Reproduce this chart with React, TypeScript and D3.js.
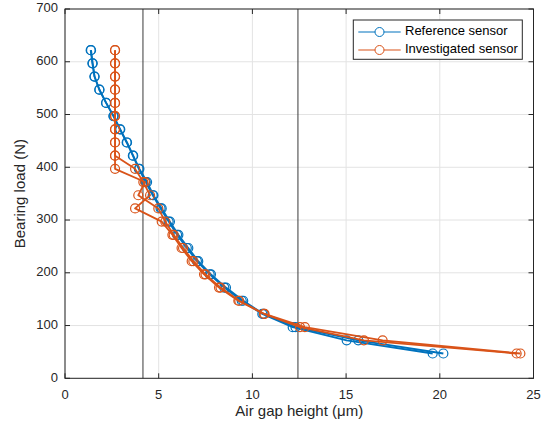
import React from "react";
import * as d3 from "d3";

const loads = [622, 597, 572, 547, 522, 497, 472, 447, 422, 397, 372, 347, 322, 297, 272, 247, 222, 197, 172, 147, 122, 97, 72, 47];

const refRun1 = [1.37, 1.46, 1.57, 1.83, 2.19, 2.58, 2.93, 3.29, 3.62, 3.94, 4.31, 4.68, 5.1, 5.53, 5.98, 6.5, 7.04, 7.72, 8.5, 9.43, 10.53, 12.15, 15.03, 19.62];
const refRun2 = [1.39, 1.48, 1.58, 1.84, 2.2, 2.6, 2.95, 3.31, 3.64, 3.97, 4.38, 4.72, 5.16, 5.6, 6.05, 6.58, 7.11, 7.79, 8.59, 9.51, 10.6, 12.3, 15.65, 20.19];

const invRun1 = [2.67, 2.67, 2.67, 2.67, 2.67, 2.67, 2.67, 2.67, 2.67, 3.74, 4.18, 4.54, 3.74, 5.16, 5.73, 6.22, 6.76, 7.42, 8.22, 9.25, 10.62, 12.54, 15.95, 24.1];
const invRun2 = [2.67, 2.67, 2.67, 2.67, 2.67, 2.67, 2.67, 2.67, 2.67, 2.67, 4.27, 3.91, 4.98, 5.35, 5.8, 6.3, 6.85, 7.5, 8.3, 9.3, 10.65, 12.8, 16.95, 24.3];

const refLines = [4.16, 12.43];
const xTicks = [0, 5, 10, 15, 20, 25];
const yTicks = [0, 100, 200, 300, 400, 500, 600, 700];

const seriesNames = ["Reference sensor", "Investigated sensor"];
const seriesColors = ["#0072BD", "#D95319"];

const FONT = "'Liberation Sans', Arial, Helvetica, sans-serif";

export default function App() {
  const W = 548, H = 430;
  const L = 65, R = 533.5, T = 9, B = 378.3;
  const x = d3.scaleLinear().domain([0, 25]).range([L, R]);
  const y = d3.scaleLinear().domain([0, 700]).range([B, T]);
  const line = d3.line<[number, number]>().x(d => x(d[0])).y(d => y(d[1]));

  const runs = [
    { xs: refRun1, c: 0 },
    { xs: refRun2, c: 0 },
    { xs: invRun1, c: 1 },
    { xs: invRun2, c: 1 },
  ];
  const axisColor = "#262626";
  const gridColor = "#e3e3e3";
  const tl = 5;

  return (
    <svg width={W} height={H} style={{ position: "absolute", left: 0, top: 0, background: "#fff" }} fontFamily={FONT}>
      <rect x={0} y={0} width={W} height={H} fill="#fff" />
      {xTicks.map(t => (
        <line key={"gx" + t} x1={x(t)} x2={x(t)} y1={T} y2={B} stroke={gridColor} strokeWidth={1} />
      ))}
      {yTicks.map(t => (
        <line key={"gy" + t} x1={L} x2={R} y1={y(t)} y2={y(t)} stroke={gridColor} strokeWidth={1} />
      ))}
      {refLines.map(v => (
        <line key={"rl" + v} x1={x(v)} x2={x(v)} y1={T} y2={B} stroke="#3a3a3a" strokeWidth={1} />
      ))}
      {runs.map((r, i) => {
        const pts: [number, number][] = r.xs.map((v, j) => [v, loads[j]]);
        return (
          <g key={"run" + i}>
            <path d={line(pts) || ""} fill="none" stroke={seriesColors[r.c]} strokeWidth={1.8} strokeLinejoin="round" />
            {pts.map((p, j) => (
              <circle key={j} cx={x(p[0])} cy={y(p[1])} r={4.5} fill="none" stroke={seriesColors[r.c]} strokeWidth={1.2} />
            ))}
          </g>
        );
      })}
      <rect x={L} y={T} width={R - L} height={B - T} fill="none" stroke={axisColor} strokeWidth={1} />
      {xTicks.map(t => (
        <g key={"xt" + t}>
          <line x1={x(t)} x2={x(t)} y1={B} y2={B - tl} stroke={axisColor} />
          <line x1={x(t)} x2={x(t)} y1={T} y2={T + tl} stroke={axisColor} />
          <text x={x(t)} y={B + 17} textAnchor="middle" dominantBaseline="middle" fontSize={13} fill={axisColor}>{t}</text>
        </g>
      ))}
      {yTicks.map(t => (
        <g key={"yt" + t}>
          <line x1={L} x2={L + tl} y1={y(t)} y2={y(t)} stroke={axisColor} />
          <line x1={R} x2={R - tl} y1={y(t)} y2={y(t)} stroke={axisColor} />
          <text x={L - 7} y={y(t)} textAnchor="end" dominantBaseline="middle" fontSize={13} fill={axisColor}>{t}</text>
        </g>
      ))}
      <text x={(L + R) / 2} y={412} textAnchor="middle" dominantBaseline="middle" fontSize={15} fill={axisColor}>Air gap height (μm)</text>
      <text transform={`translate(21,${(T + B) / 2}) rotate(-90)`} textAnchor="middle" dominantBaseline="middle" fontSize={15} fill={axisColor}>Bearing load (N)</text>
      <g>
        <rect x={353.3} y={20} width={169} height={39.3} fill="#fff" stroke={axisColor} strokeWidth={1} />
        {seriesNames.map((n, i) => {
          const yy = 32 + i * 18;
          return (
            <g key={n}>
              <line x1={358.3} x2={400.7} y1={yy} y2={yy} stroke={seriesColors[i]} strokeWidth={1.2} />
              <circle cx={379.5} cy={yy} r={4.5} fill="#fff" stroke={seriesColors[i]} strokeWidth={1} />
              <text x={405} y={yy} dominantBaseline="middle" fontSize={13} fill="#000">{n}</text>
            </g>
          );
        })}
      </g>
    </svg>
  );
}
